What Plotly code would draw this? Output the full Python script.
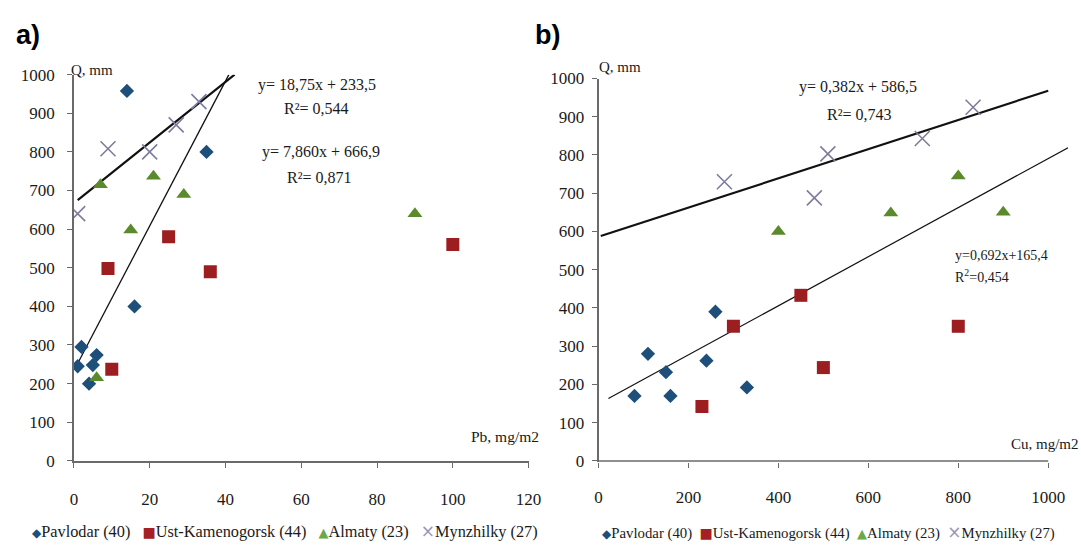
import plotly.graph_objects as go

W, H = 1081, 551

# ---------------- data ----------------
series_names = ["Pavlodar (40)", "Ust-Kamenogorsk (44)", "Almaty (23)", "Mynzhilky (27)"]

# panel a) Pb, mg/m2 vs Q, mm
pb_pavlodar_x = [1, 2, 4, 5, 6, 14, 16, 35]
pb_pavlodar_y = [245, 295, 200, 248, 274, 958, 400, 800]
pb_ust_x = [9, 10, 25, 36, 100]
pb_ust_y = [498, 237, 580, 490, 560]
pb_almaty_x = [6, 7, 15, 21, 29, 90]
pb_almaty_y = [215, 715, 598, 737, 690, 640]
pb_myn_x = [1, 9, 20, 27, 33]
pb_myn_y = [640, 808, 800, 870, 930]
pb_trend1_x = [1, 42.4]      # y = 7,860x + 666,9
pb_trend1_y = [675, 1000]
pb_trend2_x = [1, 40.9]      # y = 18,75x + 233,5
pb_trend2_y = [252, 1000]

# panel b) Cu, mg/m2 vs Q, mm
cu_pavlodar_x = [80, 110, 150, 160, 240, 260, 330]
cu_pavlodar_y = [170, 280, 232, 170, 262, 390, 192]
cu_ust_x = [230, 300, 450, 500, 800]
cu_ust_y = [142, 352, 433, 244, 352]
cu_almaty_x = [400, 650, 800, 900]
cu_almaty_y = [600, 648, 745, 650]
cu_myn_x = [280, 480, 510, 720, 833]
cu_myn_y = [730, 688, 803, 843, 925]
cu_trend1_x = [5, 1000]      # y = 0,382x + 586,5
cu_trend1_y = [588, 968]
cu_trend2_x = [22, 1044]     # y = 0,692x + 165,4
cu_trend2_y = [163, 819]

pb_ticks = [0, 20, 40, 60, 80, 100, 120]
cu_ticks = [0, 200, 400, 600, 800, 1000]
q_ticks = [0, 100, 200, 300, 400, 500, 600, 700, 800, 900, 1000]

eq_a = ["y= 18,75x + 233,5", "R²= 0,544", "y= 7,860x + 666,9", "R²= 0,871"]
eq_b = ["y= 0,382x + 586,5", "R²= 0,743", "y=0,692x+165,4", "R<sup>2</sup>=0,454"]

# ---------------- style ----------------
C_PAV = "#1d4f7a"
C_UST = "#9c1e20"
C_ALM = "#5a8a2c"
C_MYN = "#7e7c9e"
LEG_COL = ["#1d4f7a", "#a52024", "#6aa84a", "#9a98b6"]
LEG_SYM = ["◆", "■", "▲", "×"]
LEG_SYM_SIZE = [12, 14, 13, 17]
AX = "#6a6a6a"
TXT = "#1a1a1a"
SERIF = "Liberation Serif"
NB = "\u00a0"

def px_x(p):
    return p / W

def px_y(p):
    return 1 - p / H

fig = go.Figure()

def markers(x, y, sym, col, size, xa, ya, lw=0):
    mk = dict(symbol=sym, color=col, size=size)
    mk["line"] = dict(color=col, width=lw) if lw else dict(width=0)
    fig.add_trace(go.Scatter(x=x, y=y, mode="markers", marker=mk,
                             xaxis=xa, yaxis=ya, showlegend=False, hoverinfo="x+y"))

def line(x, y, w, xa, ya, col="#111111"):
    fig.add_trace(go.Scatter(x=x, y=y, mode="lines", line=dict(color=col, width=w),
                             xaxis=xa, yaxis=ya, showlegend=False, hoverinfo="skip"))

# panel a
line(pb_trend1_x, pb_trend1_y, 2.2, "x", "y")
line(pb_trend2_x, pb_trend2_y, 1.3, "x", "y")
markers(pb_pavlodar_x, pb_pavlodar_y, "diamond", C_PAV, 11, "x", "y")
markers(pb_ust_x, pb_ust_y, "square", C_UST, 13, "x", "y")
markers(pb_almaty_x, pb_almaty_y, "triangle-up", C_ALM, 13, "x", "y")
markers(pb_myn_x, pb_myn_y, "x-thin", C_MYN, 15, "x", "y", lw=1.6)

# panel b
line([0, 1000], [0, 0], 1.5, "x2", "y2", col=AX)   # visible x-axis baseline (0..1000)
line(cu_trend1_x, cu_trend1_y, 2.2, "x2", "y2")
line(cu_trend2_x, cu_trend2_y, 1.2, "x2", "y2")
markers(cu_pavlodar_x, cu_pavlodar_y, "diamond", C_PAV, 11, "x2", "y2")
markers(cu_ust_x, cu_ust_y, "square", C_UST, 13, "x2", "y2")
markers(cu_almaty_x, cu_almaty_y, "triangle-up", C_ALM, 13, "x2", "y2")
markers(cu_myn_x, cu_myn_y, "x-thin", C_MYN, 15, "x2", "y2", lw=1.6)

tickfont = dict(family=SERIF, size=17, color=TXT)
common = dict(showgrid=False, zeroline=False, ticks="outside", ticklen=5,
              tickcolor=AX, tickwidth=1.3, tickfont=tickfont, fixedrange=True)

fig.update_layout(
    width=W, height=H,
    margin=dict(l=0, r=0, t=0, b=0),
    paper_bgcolor="white", plot_bgcolor="white",
    showlegend=False,
    xaxis=dict(domain=[px_x(71), px_x(533)], range=[0, 120], tickvals=pb_ticks,
               showline=True, linecolor=AX, linewidth=1.5, anchor="y",
               ticklabelstandoff=17, **common),
    yaxis=dict(domain=[px_y(468), px_y(68)], range=[0, 1000], tickvals=q_ticks,
               showline=True, linecolor=AX, linewidth=1.5, anchor="x",
               ticklabelstandoff=9, **common),
    xaxis2=dict(domain=[px_x(604), 1.0], range=[0, 1044], tickvals=cu_ticks,
                showline=False, anchor="y2", ticklabelstandoff=15, **common),
    yaxis2=dict(domain=[px_y(469.2), px_y(72)], range=[-3, 1000], tickvals=q_ticks,
                showline=True, linecolor=AX, linewidth=1.5, anchor="x2",
                ticklabelstandoff=4, **common),
)

ann = []

def text(s, x, y, size, xanchor="center", family=SERIF, color=TXT, bold=False):
    if bold:
        s = "<b>" + s + "</b>"
    ann.append(dict(text=s, x=px_x(x), y=px_y(y), xref="paper", yref="paper",
                    xanchor=xanchor, yanchor="middle", showarrow=False,
                    font=dict(family=family, size=size, color=color)))

# panel labels
text("a)", 10, 27, 27, xanchor="left", family="Liberation Sans", color="#000000", bold=True)
text("b)", 537, 27, 27, xanchor="left", family="Liberation Sans", color="#000000", bold=True)

# axis titles
text("Q, mm", 66, 63, 15, xanchor="left")
text("Q, mm", 602, 60, 15, xanchor="left")
text("Pb, mg/m2", 472, 443, 15.5, xanchor="left")
text("Cu, mg/m2", 1021, 451, 15, xanchor="left")

# trendline equations
text(eq_a[0], 318, 79, 16)
text(eq_a[1], 318, 103, 16)
text(eq_a[2], 322, 148, 16)
text(eq_a[3], 321, 175, 16)
text(eq_b[0], 868, 81, 16)
text(eq_b[1], 869, 109, 16)
text(eq_b[2], 964, 255, 14, xanchor="left")
text(eq_b[3], 964, 277, 14, xanchor="left")

# legends: one text row under each panel (coloured symbol + series name)
def legend_row(gap):
    parts = []
    for i, name in enumerate(series_names):
        sym = ("<span style='color:%s;font-size:%dpx;font-family:DejaVu Sans'>%s</span>"
               % (LEG_COL[i], LEG_SYM_SIZE[i], LEG_SYM[i]))
        parts.append(sym + name)
    return (NB * gap).join(parts)

text(legend_row(3), 26, 541, 16.3, xanchor="left")
text(legend_row(2), 606, 542, 14.8, xanchor="left")

fig.update_layout(annotations=ann)

fig.write_html("out.html")
